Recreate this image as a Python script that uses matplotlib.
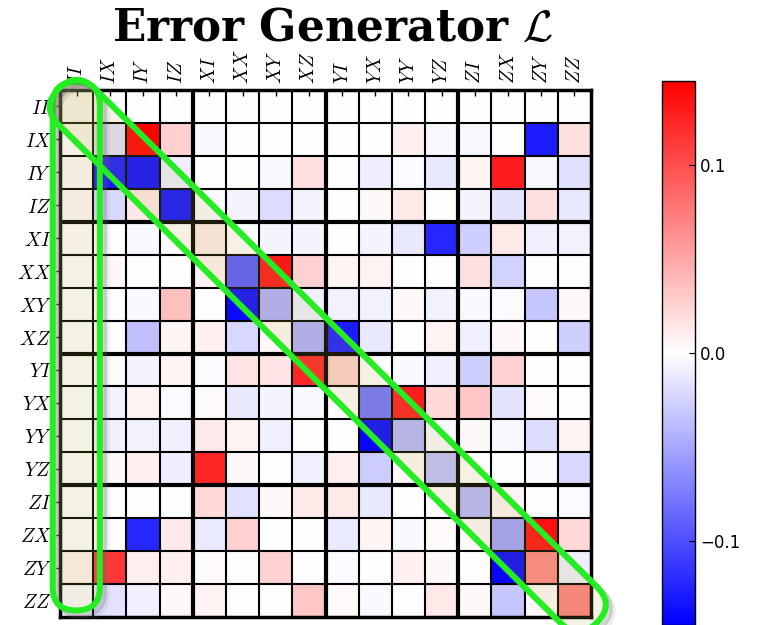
import numpy as np
import matplotlib
matplotlib.use("Agg")
import matplotlib.pyplot as plt
from matplotlib.patches import FancyBboxPatch
from matplotlib.transforms import Affine2D
from matplotlib.ticker import FuncFormatter
from matplotlib import patheffects as pe

plt.rcParams["mathtext.fontset"] = "cm"

# Two-qubit Pauli basis labels
labels = ["II", "IX", "IY", "IZ", "XI", "XX", "XY", "XZ",
          "YI", "YX", "YY", "YZ", "ZI", "ZX", "ZY", "ZZ"]

# Error generator matrix entries, one list per row
row_II = [0, 0, 0, 0, 0, 0, 0, 0, 0, 0, 0, 0, 0, 0, 0, 0]
row_IX = [0, -0.017, 0.145, 0.026, -0.004, 0, 0, 0, 0, 0, 0.009, -0.004, -0.004, 0, -0.128, 0.017]
row_IY = [0.003, -0.130, -0.138, -0.010, 0, 0, -0.004, 0.017, 0, -0.010, -0.003, -0.013, 0.006, 0.128, -0.004, -0.017]
row_IZ = [0.003, -0.022, 0.013, -0.135, -0.003, -0.006, -0.020, -0.006, 0, 0.004, 0.013, -0.001, -0.006, -0.015, 0.017, -0.013]
row_XI = [0.002, 0.001, -0.004, 0.002, 0.012, 0, -0.006, -0.006, 0, -0.006, -0.013, -0.123, -0.028, 0.013, -0.009, -0.007]
row_XX = [0, 0.004, 0, 0, 0.007, -0.094, 0.130, 0.026, 0.006, 0.007, 0, 0, 0.017, -0.025, 0, 0]
row_XY = [0, 0, -0.004, 0.036, 0, -0.138, -0.046, -0.009, -0.007, -0.007, 0.004, -0.007, -0.004, -0.003, -0.032, 0.004]
row_XZ = [0, 0, -0.036, 0.006, 0.009, -0.022, 0.004, -0.046, -0.128, -0.013, 0, 0.007, -0.009, 0.004, 0, -0.028]
row_YI = [0, 0.003, -0.006, 0.006, -0.003, 0.015, 0.015, 0.123, 0.026, 0, -0.004, -0.009, -0.028, 0.026, 0, 0]
row_YX = [0, -0.007, 0.007, -0.003, 0.003, -0.013, -0.006, -0.004, 0.002, -0.080, 0.128, 0.022, 0.032, -0.015, 0.003, 0]
row_YY = [0, -0.009, -0.007, -0.009, 0.013, 0.007, -0.009, 0, 0, -0.141, -0.041, -0.004, 0.004, -0.004, -0.020, 0.006]
row_YZ = [0, 0.004, 0.009, -0.010, 0.123, 0.004, 0, -0.009, 0.010, -0.029, 0.004, -0.036, 0, 0, -0.003, -0.022]
row_ZI = [0, 0, 0, 0, 0.022, -0.016, 0.004, 0.012, 0.013, -0.013, 0, 0, -0.041, 0.006, 0, -0.003]
row_ZX = [0, 0, -0.123, 0.013, -0.012, 0.026, 0, 0, -0.012, 0.006, -0.004, 0.003, 0.003, -0.054, 0.135, 0.022]
row_ZY = [0.007, 0.113, 0.010, 0.009, 0.003, 0, 0.026, 0.001, -0.003, 0, 0.009, 0.004, 0, -0.141, 0.068, -0.010]
row_ZZ = [-0.004, -0.016, -0.009, 0.004, 0.007, 0, 0, 0.032, 0.003, -0.004, 0, 0.013, 0.004, -0.032, 0.003, 0.072]

rows = [row_II, row_IX, row_IY, row_IZ, row_XI, row_XX, row_XY, row_XZ,
        row_YI, row_YX, row_YY, row_YZ, row_ZI, row_ZX, row_ZY, row_ZZ]
M = np.array(rows, dtype=float)

vlim = 0.1445
cbar_ticks = [-0.1, 0.0, 0.1]

W, H = 766, 625
fig = plt.figure(figsize=(W / 100, H / 100), dpi=100)

def px_axes(x0, y0, x1, y1):
    return fig.add_axes([x0 / W, 1 - y1 / H, (x1 - x0) / W, (y1 - y0) / H])

ax = px_axes(60, 90, 591, 617)
n = len(labels)
mesh = ax.pcolormesh(np.arange(n + 1), np.arange(n + 1), M, cmap="bwr",
                     vmin=-vlim, vmax=vlim, shading="flat")
ax.set_xlim(0, n)
ax.set_ylim(n, 0)

# cell grid: thin lines between cells, heavy lines between qubit blocks
for k in range(1, n):
    lw = 3.0 if k % 4 == 0 else 1.5
    ax.axvline(k, color="black", lw=lw, zorder=3)
    ax.axhline(k, color="black", lw=lw, zorder=3)
for side in ax.spines.values():
    side.set_linewidth(2.5)
    side.set_zorder(4)

centers = np.arange(n) + 0.5
ax.set_xticks(centers)
ax.set_yticks(centers)
ax.set_xticklabels([f"${s}$" for s in labels], rotation=90, fontsize=14)
ax.set_yticklabels([f"${s}$" for s in labels], fontsize=14)
ax.xaxis.tick_top()
ax.tick_params(axis="x", direction="in", length=4, width=1, pad=4)
ax.tick_params(axis="y", direction="out", length=3, width=1, pad=3)

# highlighted regions: the II column and the diagonal
shadow = [pe.SimpleLineShadow(offset=(3, -3), shadow_color="0.35", alpha=0.25),
          pe.SimpleLineShadow(offset=(5, -5), shadow_color="0.5", alpha=0.12),
          pe.Normal()]
fill_kw = dict(facecolor="#c0b050", alpha=0.15, edgecolor="none", zorder=5)
edge_kw = dict(facecolor="none", edgecolor="#22ee22", lw=4.3, zorder=6,
               path_effects=shadow)

col_box = dict(x=-0.22, y=-0.25, w=1.42, h=16.05, r=0.7)
for kw in (fill_kw, edge_kw):
    ax.add_patch(FancyBboxPatch((col_box["x"], col_box["y"]), col_box["w"], col_box["h"],
                                boxstyle=f"round,pad=0,rounding_size={col_box['r']}",
                                clip_on=False, **kw))

band_len = 16 * np.sqrt(2) + 0.3
band_w = 1.55
rot = Affine2D().rotate_deg(45).translate(0.5 - 0.22, 0.5 - 0.22)
for kw in (fill_kw, edge_kw):
    p = FancyBboxPatch((-0.45, -band_w / 2), band_len, band_w,
                       boxstyle=f"round,pad=0,rounding_size={band_w / 2}",
                       clip_on=False, **kw)
    p.set_transform(rot + ax.transData)
    ax.add_patch(p)

fig.text(333 / W, 1 - 41 / H, r"Error Generator $\mathcal{L}$", ha="center", va="baseline",
         fontsize=31.5, family="DejaVu Serif", weight="bold", math_fontfamily="cm")

cax = px_axes(662, 81, 695, 625)
cb = fig.colorbar(mesh, cax=cax, ticks=cbar_ticks)
cb.outline.set_linewidth(1.0)
cb.ax.tick_params(direction="in", length=4, labelsize=12)
cb.ax.yaxis.set_major_formatter(FuncFormatter(lambda v, _: f"{v:.1f}".replace("-", "\u2212")))

fig.savefig("out.png", dpi=100)
